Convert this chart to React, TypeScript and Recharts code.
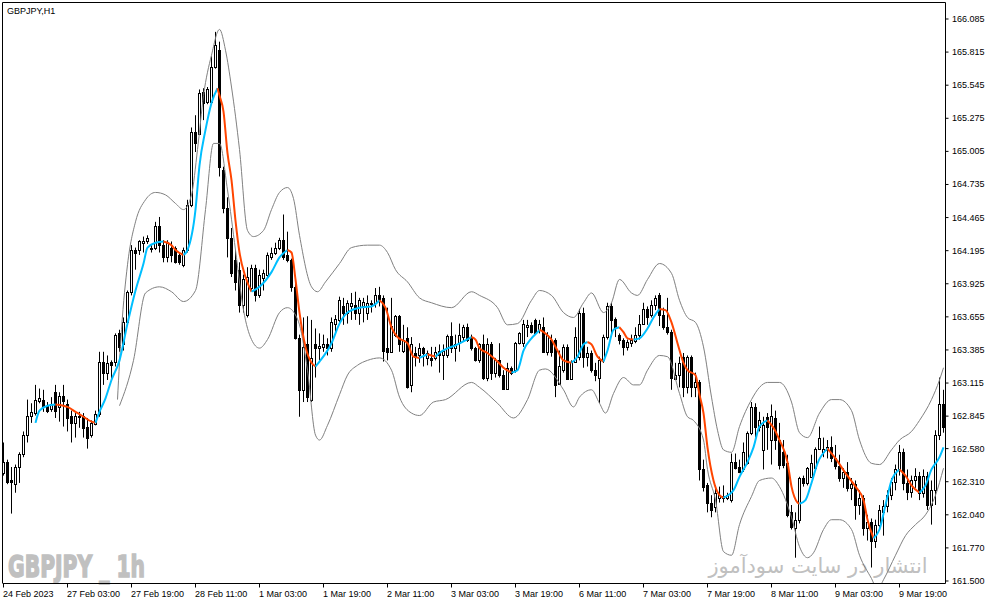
import React from "react";
import { Bar, ComposedChart, Line, XAxis, YAxis } from "recharts";

// GBPJPY H1, 24 Feb - 10 Mar 2023, one candle per hour
const timeLabels = [
  "24 Feb 2023", "27 Feb 03:00", "27 Feb 19:00", "28 Feb 11:00", "1 Mar 03:00",
  "1 Mar 19:00", "2 Mar 11:00", "3 Mar 03:00", "3 Mar 19:00", "6 Mar 11:00",
  "7 Mar 03:00", "7 Mar 19:00", "8 Mar 11:00", "9 Mar 03:00", "9 Mar 19:00"
];

const priceTicks = [
  161.5, 161.77, 162.04, 162.31, 162.58, 162.845, 163.115, 163.385, 163.655,
  163.925, 164.195, 164.465, 164.735, 165.005, 165.275, 165.545, 165.815, 166.085
];

const opens = [
  162.38, 162.47, 162.32, 162.29, 162.43, 162.54, 162.69, 162.85, 162.87, 162.97,
  162.98, 162.93, 162.90, 163.04, 162.92, 163.01, 162.94, 162.85, 162.79, 162.84,
  162.85, 162.76, 162.69, 162.78, 162.86, 163.29, 163.20, 163.29, 163.29, 163.52,
  163.43, 163.61, 163.86, 164.20, 164.20, 164.26, 164.27, 164.22, 164.22, 164.40,
  164.24, 164.14, 164.22, 164.22, 164.16, 164.08, 164.20, 164.57, 165.16, 165.15,
  165.49, 165.41, 165.41, 165.69, 165.83, 164.85, 164.54, 164.30, 164.12, 164.04,
  163.75, 163.67, 163.89, 164.05, 163.83, 163.97, 164.00, 164.14, 164.18, 164.22,
  164.28, 164.16, 164.12, 163.90, 163.48, 163.06, 163.43, 162.98, 163.43, 163.40,
  163.41, 163.43, 163.40, 163.60, 163.63, 163.74, 163.69, 163.74, 163.75, 163.69,
  163.74, 163.69, 163.76, 163.77, 163.83, 163.81, 163.40, 163.37, 163.51, 163.66,
  163.38, 163.48, 163.10, 163.36, 163.34, 163.40, 163.32, 163.32, 163.32, 163.38,
  163.34, 163.34, 163.50, 163.40, 163.44, 163.49, 163.57, 163.48, 163.40, 163.30,
  163.43, 163.16, 163.43, 163.20, 163.30, 163.18, 163.07, 163.24, 163.22, 163.44,
  163.44, 163.57, 163.59, 163.63, 163.55, 163.57, 163.37, 163.47, 163.47, 163.11,
  163.22, 163.41, 163.15, 163.29, 163.33, 163.69, 163.33, 163.36, 163.22, 163.16,
  163.30, 163.49, 163.74, 163.64, 163.51, 163.47, 163.41, 163.44, 163.46, 163.51,
  163.60, 163.72, 163.67, 163.75, 163.83, 163.67, 163.57, 163.53, 163.15, 163.18,
  163.33, 163.08, 163.33, 163.08, 163.12, 162.41, 162.28, 162.14, 162.10, 162.18,
  162.18, 162.18, 162.16, 162.47, 162.43, 162.41, 162.46, 162.71, 162.92, 162.76,
  162.57, 162.84, 162.65, 162.83, 162.65, 162.55, 162.46, 162.06, 161.93, 162.00,
  162.34, 162.30, 162.35, 162.42, 162.58, 162.55, 162.57, 162.59, 162.50, 162.44,
  162.34, 162.39, 162.26, 162.29, 162.12, 162.18, 161.93, 161.98, 161.83, 161.96,
  162.06, 162.11, 162.20, 162.31, 162.41, 162.55, 162.30, 162.23, 162.32, 162.36,
  162.22, 162.36, 162.12, 162.24, 162.69, 162.94
];

const highs = [
  162.63, 162.49, 162.43, 162.45, 162.55, 162.72, 162.98, 162.95, 163.10, 163.07,
  163.06, 162.96, 163.00, 163.10, 163.04, 163.10, 162.98, 162.89, 162.87, 162.88,
  162.87, 162.83, 162.81, 162.89, 163.37, 163.37, 163.34, 163.30, 163.52, 163.55,
  163.65, 163.87, 164.24, 164.22, 164.28, 164.31, 164.32, 164.24, 164.43, 164.47,
  164.28, 164.28, 164.27, 164.23, 164.18, 164.22, 164.61, 165.20, 165.30, 165.51,
  165.52, 165.53, 165.78, 165.98, 165.90, 164.88, 164.63, 164.38, 164.20, 164.10,
  164.00, 164.06, 164.08, 164.08, 164.04, 164.04, 164.18, 164.22, 164.26, 164.30,
  164.49, 164.35, 164.13, 163.94, 163.51, 163.65, 163.66, 163.63, 163.56, 163.52,
  163.51, 163.48, 163.65, 163.67, 163.82, 163.81, 163.79, 163.85, 163.86, 163.81,
  163.81, 163.83, 163.79, 163.89, 163.90, 163.83, 163.73, 163.81, 163.67, 163.67,
  163.59, 163.57, 163.49, 163.41, 163.44, 163.41, 163.38, 163.41, 163.41, 163.43,
  163.43, 163.51, 163.61, 163.51, 163.60, 163.59, 163.60, 163.51, 163.41, 163.44,
  163.51, 163.48, 163.45, 163.32, 163.44, 163.22, 163.28, 163.25, 163.45, 163.53,
  163.63, 163.63, 163.61, 163.64, 163.63, 163.65, 163.53, 163.51, 163.48, 163.38,
  163.43, 163.43, 163.30, 163.57, 163.72, 163.73, 163.41, 163.38, 163.28, 163.33,
  163.51, 163.77, 163.77, 163.65, 163.52, 163.48, 163.47, 163.51, 163.57, 163.67,
  163.77, 163.74, 163.79, 163.83, 163.85, 163.73, 163.81, 163.55, 163.28, 163.33,
  163.36, 163.34, 163.34, 163.20, 163.14, 162.49, 162.30, 162.20, 162.28, 162.27,
  162.28, 162.22, 162.54, 162.54, 162.49, 162.63, 162.72, 162.96, 162.95, 162.88,
  162.84, 162.87, 162.94, 162.89, 162.79, 162.65, 162.53, 162.12, 162.06, 162.35,
  162.36, 162.43, 162.53, 162.59, 162.76, 162.67, 162.65, 162.68, 162.61, 162.53,
  162.42, 162.47, 162.34, 162.32, 162.24, 162.20, 162.04, 162.01, 162.00, 162.12,
  162.16, 162.24, 162.34, 162.45, 162.61, 162.58, 162.41, 162.36, 162.42, 162.39,
  162.41, 162.39, 162.32, 162.73, 163.16, 163.06
];

const lows = [
  162.36, 162.29, 162.05, 162.22, 162.30, 162.51, 162.63, 162.79, 162.85, 162.95,
  162.88, 162.87, 162.88, 162.83, 162.80, 162.76, 162.72, 162.63, 162.67, 162.75,
  162.67, 162.58, 162.67, 162.77, 162.84, 163.10, 163.14, 163.14, 163.25, 163.37,
  163.38, 163.59, 163.83, 164.04, 164.16, 164.18, 164.25, 164.18, 164.20, 164.18,
  164.10, 164.10, 164.10, 164.09, 164.08, 164.06, 164.18, 164.55, 165.00, 165.14,
  165.26, 165.39, 165.39, 165.68, 164.80, 164.50, 164.14, 163.98, 163.87, 163.69,
  163.69, 163.65, 163.87, 163.78, 163.81, 163.87, 163.97, 164.12, 164.16, 164.20,
  164.12, 164.10, 163.86, 163.47, 162.84, 162.96, 162.96, 162.96, 163.16, 163.30,
  163.37, 163.34, 163.37, 163.52, 163.61, 163.59, 163.60, 163.63, 163.63, 163.59,
  163.61, 163.63, 163.69, 163.73, 163.74, 163.29, 163.30, 163.36, 163.49, 163.37,
  163.36, 163.07, 163.04, 163.25, 163.28, 163.25, 163.26, 163.25, 163.30, 163.20,
  163.14, 163.32, 163.36, 163.29, 163.37, 163.45, 163.45, 163.38, 163.29, 163.28,
  163.14, 163.13, 163.14, 163.16, 163.16, 163.06, 163.06, 163.18, 163.20, 163.43,
  163.41, 163.49, 163.52, 163.51, 163.52, 163.36, 163.34, 163.33, 163.00, 163.10,
  163.20, 163.14, 163.14, 163.28, 163.30, 163.24, 163.25, 163.20, 163.13, 162.95,
  163.28, 163.47, 163.49, 163.49, 163.43, 163.34, 163.38, 163.41, 163.44, 163.47,
  163.59, 163.59, 163.65, 163.71, 163.58, 163.55, 163.51, 163.06, 163.14, 163.08,
  163.00, 163.03, 163.00, 163.00, 162.32, 162.23, 162.06, 162.02, 162.06, 162.14,
  162.14, 162.16, 162.14, 162.41, 162.38, 162.39, 162.45, 162.69, 162.67, 162.72,
  162.41, 162.57, 162.45, 162.57, 162.41, 162.42, 162.02, 161.92, 161.69, 161.97,
  162.27, 162.28, 162.34, 162.41, 162.57, 162.51, 162.50, 162.47, 162.41, 162.31,
  162.26, 162.23, 162.16, 162.00, 162.04, 161.87, 161.83, 161.61, 161.77, 161.92,
  161.87, 162.06, 162.16, 162.24, 162.36, 162.24, 162.16, 162.18, 162.26, 162.16,
  162.18, 162.08, 161.96, 162.12, 162.65, 162.71
];

const closes = [
  162.47, 162.31, 162.31, 162.43, 162.54, 162.69, 162.85, 162.88, 162.98, 162.99,
  162.92, 162.89, 162.94, 162.89, 163.01, 162.97, 162.83, 162.79, 162.85, 162.85,
  162.75, 162.67, 162.79, 162.86, 163.29, 163.20, 163.28, 163.26, 163.51, 163.41,
  163.61, 163.86, 164.20, 164.18, 164.27, 164.27, 164.30, 164.21, 164.40, 164.24,
  164.14, 164.26, 164.16, 164.10, 164.10, 164.20, 164.57, 165.16, 165.07, 165.48,
  165.40, 165.51, 165.69, 165.87, 164.88, 164.54, 164.30, 164.01, 163.94, 163.75,
  163.96, 163.98, 164.05, 163.83, 164.00, 164.01, 164.16, 164.18, 164.22, 164.28,
  164.14, 164.12, 163.90, 163.48, 163.06, 163.41, 163.00, 163.32, 163.40, 163.42,
  163.43, 163.40, 163.61, 163.64, 163.79, 163.69, 163.77, 163.77, 163.69, 163.79,
  163.78, 163.77, 163.77, 163.83, 163.79, 163.38, 163.37, 163.58, 163.66, 163.43,
  163.47, 163.08, 163.43, 163.33, 163.40, 163.36, 163.36, 163.30, 163.37, 163.34,
  163.38, 163.50, 163.40, 163.43, 163.51, 163.57, 163.47, 163.40, 163.30, 163.43,
  163.16, 163.43, 163.20, 163.30, 163.18, 163.07, 163.24, 163.20, 163.44, 163.52,
  163.60, 163.59, 163.53, 163.52, 163.60, 163.37, 163.51, 163.37, 163.10, 163.25,
  163.41, 163.15, 163.29, 163.49, 163.69, 163.33, 163.36, 163.22, 163.18, 163.30,
  163.49, 163.74, 163.63, 163.56, 163.47, 163.41, 163.45, 163.47, 163.51, 163.60,
  163.72, 163.65, 163.75, 163.81, 163.67, 163.57, 163.53, 163.16, 163.18, 163.28,
  163.08, 163.33, 163.08, 163.12, 162.41, 162.27, 162.14, 162.08, 162.22, 162.20,
  162.19, 162.20, 162.47, 162.42, 162.39, 162.55, 162.71, 162.92, 162.76, 162.81,
  162.77, 162.76, 162.85, 162.65, 162.45, 162.45, 162.04, 161.94, 162.00, 162.34,
  162.30, 162.42, 162.46, 162.58, 162.67, 162.58, 162.59, 162.50, 162.44, 162.34,
  162.39, 162.26, 162.29, 162.12, 162.18, 161.93, 161.98, 161.83, 161.96, 162.08,
  162.11, 162.20, 162.31, 162.41, 162.55, 162.30, 162.23, 162.32, 162.36, 162.22,
  162.36, 162.12, 162.24, 162.69, 162.94, 162.76
];

const midLine: [number, number][] = [
  [8, 162.79], [9, 162.89], [11, 162.93], [13, 162.94], [15, 162.93], [16, 162.92],
  [18, 162.88], [20, 162.84], [22, 162.8], [23, 162.79], [24, 162.88], [25.5, 162.99],
  [27, 163.14], [29, 163.3], [31, 163.6], [33, 163.87], [35, 164.09], [36, 164.22],
  [38, 164.26], [40, 164.27], [42, 164.24], [43, 164.2], [45, 164.16], [46, 164.2],
  [48, 164.53], [49, 164.89], [50.5, 165.18], [52, 165.4], [53.5, 165.52], [54, 165.46],
  [55, 165.33], [56, 164.99], [57, 164.77], [58, 164.44], [59, 164.18], [60.5, 163.98],
  [62, 163.86], [64, 163.9], [67, 164.02], [69, 164.14], [71, 164.2], [72, 164.18],
  [73, 163.96], [74, 163.69], [75.5, 163.41], [77, 163.28], [78, 163.25], [79, 163.29],
  [82, 163.44], [84, 163.6], [86, 163.69], [89, 163.73], [92, 163.74], [94, 163.79],
  [95.5, 163.73], [97, 163.57], [98.5, 163.49], [101, 163.44], [102.5, 163.33], [104, 163.32],
  [106, 163.35], [108, 163.33], [109, 163.36], [113.5, 163.43], [117, 163.49], [118, 163.47],
  [119, 163.4], [121, 163.36], [123.5, 163.29], [125, 163.24], [127, 163.2], [128.5, 163.22],
  [130, 163.38], [132, 163.48], [133.5, 163.53], [134, 163.55], [135.5, 163.52], [137, 163.47],
  [138.5, 163.38], [140, 163.3], [142, 163.28], [143.5, 163.33], [145, 163.43], [146, 163.45],
  [147, 163.43], [148.5, 163.33], [150, 163.29], [151, 163.38], [152.5, 163.55], [154, 163.57],
  [155, 163.53], [156, 163.48], [157.5, 163.47], [159, 163.48], [161, 163.56], [162.5, 163.65],
  [164, 163.72], [165.5, 163.71], [167, 163.61], [168.5, 163.44], [170, 163.28], [171, 163.22],
  [173, 163.18], [174, 163.02], [175, 162.87], [176, 162.59], [177.5, 162.32], [179, 162.2],
  [180, 162.18], [182.5, 162.24], [184, 162.35], [186, 162.47], [187.5, 162.59], [189, 162.76],
  [191, 162.81], [192.5, 162.75], [194, 162.65], [196, 162.47], [197, 162.27], [198.5, 162.14],
  [199, 162.13], [200.5, 162.16], [202, 162.3], [203.5, 162.46], [206, 162.58], [208, 162.5],
  [210.5, 162.38], [213, 162.27], [215, 162.16], [216, 162.0], [217.5, 161.85], [219, 161.92],
  [220.5, 162.12], [222, 162.32], [224, 162.41], [225.5, 162.36], [227, 162.28], [229, 162.22],
  [230.5, 162.28], [232, 162.41], [234, 162.51], [235, 162.59]
];

const upperBand: [number, number][] = [
  [28.5, 162.98], [29.5, 163.55], [31, 164.08], [33, 164.43], [35.5, 164.61], [38, 164.67],
  [40.5, 164.65], [43, 164.58], [45, 164.53], [47, 164.65], [48.5, 165.02], [50, 165.46],
  [52, 165.79], [54, 166.0], [55.5, 165.83], [57, 165.53], [59, 165.02], [61, 164.36],
  [62.5, 164.31], [65, 164.36], [67, 164.53], [69, 164.67], [71, 164.71], [72.5, 164.62],
  [74, 164.32], [77, 163.9], [78.5, 163.86], [80.5, 163.94], [84, 164.09], [87, 164.22],
  [91, 164.24], [94, 164.24], [96, 164.18], [98, 164.04], [101, 163.94], [104, 163.81],
  [107, 163.77], [112, 163.73], [117, 163.86], [119, 163.83], [123.5, 163.73], [126, 163.59],
  [128.5, 163.6], [132, 163.79], [134, 163.87], [137, 163.83], [140, 163.69], [142.5, 163.65],
  [145, 163.77], [147, 163.85], [150, 163.69], [152, 163.77], [154, 163.96], [157, 163.85],
  [158.5, 163.83], [161, 163.96], [164, 164.09], [167, 164.01], [169, 163.79], [171, 163.65],
  [173, 163.61], [175, 163.41], [177, 163.0], [178.5, 162.73], [180, 162.57], [182, 162.55],
  [184, 162.76], [187, 162.98], [189, 163.08], [191, 163.12], [194, 163.12], [197, 162.96],
  [199, 162.71], [201, 162.67], [204, 162.87], [207, 162.98], [209, 162.98], [212, 162.89],
  [214, 162.65], [217, 162.46], [219, 162.45], [222, 162.57], [224, 162.65], [227, 162.72],
  [229, 162.81], [232, 162.98], [234, 163.14], [235, 163.24]
];

const lowerBand: [number, number][] = [
  [29, 162.93], [32.5, 163.3], [35.5, 163.85], [39, 163.9], [42, 163.86], [45, 163.78],
  [48, 163.87], [50.5, 164.53], [52.5, 165.07], [54, 165.07], [56, 164.69], [58, 164.2],
  [60, 163.71], [62, 163.47], [64, 163.4], [66, 163.47], [69, 163.69], [71, 163.73],
  [73, 163.67], [74, 163.59], [76, 163.22], [78, 162.69], [79, 162.65], [81, 162.77],
  [84, 163.02], [86, 163.18], [88.5, 163.26], [91, 163.3], [94, 163.32], [97, 163.22],
  [99, 163.0], [102, 162.87], [104, 162.85], [107.5, 162.96], [110.5, 162.98], [117, 163.12],
  [119, 163.08], [123.5, 162.95], [127.5, 162.83], [131, 162.98], [134, 163.22], [135.5, 163.23],
  [140, 163.06], [142.5, 162.92], [144, 163.0], [147, 163.06], [149, 162.95], [150.5, 162.87],
  [152.5, 163.03], [155, 163.16], [157.5, 163.1], [159, 163.1], [161, 163.22], [164, 163.34],
  [166, 163.33], [169, 163.03], [171, 162.84], [172.5, 162.81], [175, 162.65], [176, 162.41],
  [178, 162.16], [180, 161.74], [182, 161.71], [184, 161.96], [187, 162.19], [189, 162.32],
  [192, 162.34], [194, 162.27], [197, 162.02], [199, 161.78], [201, 161.69], [202.5, 161.73],
  [205, 161.92], [207, 162.0], [209, 162.0], [212, 161.92], [214, 161.71], [217, 161.52],
  [218.5, 161.43], [220, 161.51], [223, 161.71], [225.5, 161.87], [228, 161.96], [230.5, 162.04],
  [233, 162.2], [235, 162.42]
];

const UP_COLOR = "#00BFFF";
const DOWN_COLOR = "#FF4500";
const BAND_COLOR = "#808080";
const FONT = "'Liberation Sans', Arial, sans-serif";

const candles = opens.map((o, i) => ({
  i,
  o,
  h: highs[i],
  l: lows[i],
  c: closes[i],
  range: [lows[i], highs[i]]
}));

type Pt = { i: number; v: number };
const toPts = (arr: [number, number][]): Pt[] => arr.map(([i, v]) => ({ i, v }));

// split the middle line into rising (blue) and falling (red) runs
const midRuns: { up: boolean; pts: Pt[] }[] = [];
for (let k = 1; k < midLine.length; k++) {
  const a = midLine[k - 1];
  const b = midLine[k];
  const prev = midRuns[midRuns.length - 1];
  const up = b[1] > a[1] ? true : b[1] < a[1] ? false : prev ? prev.up : true;
  if (prev && prev.up === up) prev.pts.push({ i: b[0], v: b[1] });
  else midRuns.push({ up, pts: [{ i: a[0], v: a[1] }, { i: b[0], v: b[1] }] });
}

function CandleShape(props: any) {
  const { x, y, width, height, payload } = props;
  if (x == null || y == null || !payload) return null;
  const cx = Math.round(x + width / 2 - 0.5) + 0.5;
  const top = Math.min(y, y + height);
  const h = Math.abs(height);
  const span = payload.h - payload.l;
  const k = span > 0 ? h / span : 0;
  const bTop = Math.round(top + (payload.h - Math.max(payload.o, payload.c)) * k) + 0.5;
  const bBot = Math.round(top + (payload.h - Math.min(payload.o, payload.c)) * k) + 0.5;
  const bull = payload.c >= payload.o;
  return (
    <g>
      <line x1={cx} x2={cx} y1={top} y2={top + h} stroke="#000" strokeWidth={1} />
      {bBot - bTop < 1 ? (
        <line x1={cx - 1.5} x2={cx + 1.5} y1={bTop} y2={bTop} stroke="#000" strokeWidth={1} />
      ) : (
        <rect
          x={cx - 1}
          y={bTop}
          width={2}
          height={bBot - bTop}
          fill={bull ? "#fff" : "#000"}
          stroke="#000"
          strokeWidth={1}
        />
      )}
    </g>
  );
}

function PriceTick(props: any) {
  const { y, payload } = props;
  return (
    <text x={952} y={y + 3} fontSize={9} fontFamily={FONT} fill="#000">
      {Number(payload.value).toFixed(3)}
    </text>
  );
}

function TimeTick(props: any) {
  const { x, payload } = props;
  const label = timeLabels[Math.round(payload.value / 16)] ?? "";
  return (
    <text x={x - 0.5} y={597} fontSize={9} fontFamily={FONT} fill="#000" textAnchor="start">
      {label}
    </text>
  );
}

export default function App(): React.JSX.Element {
  const tickIdx = timeLabels.map((_, k) => k * 16);
  return (
    <div
      style={{
        position: "absolute",
        left: 0,
        top: 0,
        width: 991,
        height: 605,
        background: "#fff",
        overflow: "hidden"
      }}
    >
      <svg width={991} height={605} style={{ position: "absolute", left: 0, top: 0 }}>
        <text
          x={8}
          y={577}
          fontFamily="'DejaVu Sans', sans-serif"
          fontWeight="bold"
          fontSize={31}
          fill="#C0C0C0"
          stroke="#C0C0C0"
          strokeWidth={1.6}
          textLength={137}
          lengthAdjust="spacingAndGlyphs"
        >
          GBPJPY _ 1h
        </text>
        <text
          x={818}
          y={573}
          textAnchor="middle"
          fontFamily="'DejaVu Sans', sans-serif"
          fontSize={21}
          fill="#C0C0C0"
        >
          انتشار در سایت سودآموز
        </text>
      </svg>
      <div style={{ position: "absolute", left: 0, top: 0 }}>
        <ComposedChart
          width={991}
          height={605}
          data={candles}
          margin={{ top: 2.5, right: 0, bottom: 0, left: 3 }}
        >
          <XAxis
            dataKey="i"
            type="number"
            domain={[-0.125, 235.5]}
            allowDataOverflow
            ticks={tickIdx}
            interval={0}
            height={21.5}
            tickSize={4}
            axisLine={{ stroke: "#000" }}
            tickLine={{ stroke: "#000" }}
            tick={<TimeTick />}
          />
          <YAxis
            orientation="right"
            type="number"
            domain={[161.4796, 166.2196]}
            allowDataOverflow
            ticks={priceTicks}
            interval={0}
            width={45.5}
            tickSize={3}
            axisLine={{ stroke: "#000" }}
            tickLine={{ stroke: "#000" }}
            tick={<PriceTick />}
          />
          <Bar dataKey="range" barSize={3} shape={<CandleShape />} isAnimationActive={false} />
          <Line
            data={toPts(upperBand)}
            dataKey="v"
            type="monotone"
            stroke={BAND_COLOR}
            strokeWidth={1}
            dot={false}
            activeDot={false}
            isAnimationActive={false}
          />
          <Line
            data={toPts(lowerBand)}
            dataKey="v"
            type="monotone"
            stroke={BAND_COLOR}
            strokeWidth={1}
            dot={false}
            activeDot={false}
            isAnimationActive={false}
          />
          {midRuns.map((run, k) => (
            <Line
              key={`mid-${k}`}
              data={run.pts}
              dataKey="v"
              type="monotone"
              stroke={run.up ? UP_COLOR : DOWN_COLOR}
              strokeWidth={2}
              dot={false}
              activeDot={false}
              isAnimationActive={false}
            />
          ))}
        </ComposedChart>
      </div>
      <svg
        width={991}
        height={605}
        style={{ position: "absolute", left: 0, top: 0, pointerEvents: "none" }}
      >
        <line x1={2.5} x2={945.5} y1={2.5} y2={2.5} stroke="#000" strokeWidth={1} />
        <line x1={2.5} x2={2.5} y1={2.5} y2={583.5} stroke="#000" strokeWidth={1} />
        <text x={7} y={14} fontSize={9} fontFamily={FONT} fill="#000">
          GBPJPY,H1
        </text>
      </svg>
    </div>
  );
}
